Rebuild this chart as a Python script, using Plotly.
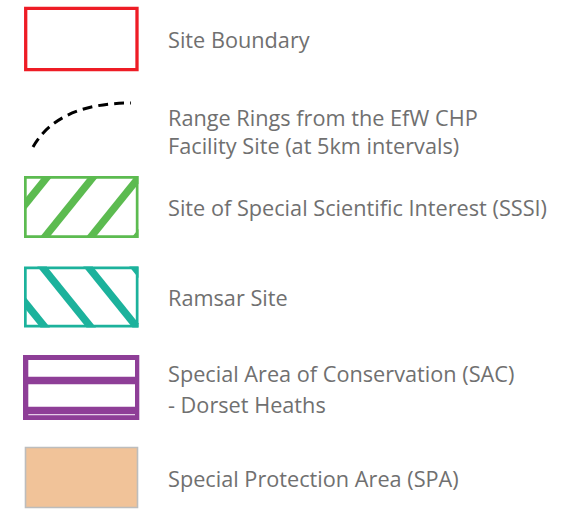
import plotly.graph_objects as go

W, H = 588, 513

# ---- legend content ----
label_lines = [
    ["Site Boundary"],
    ["Range Rings from the EfW CHP", "Facility Site (at 5km intervals)"],
    ["Site of Special Scientific Interest (SSSI)"],
    ["Ramsar Site"],
    ["Special Area of Conservation (SAC)", "- Dorset Heaths"],
    ["Special Protection Area (SPA)"],
]
symbol_kinds = ["outline", "dashed_arc", "hatch_up", "hatch_down", "double_bar", "fill"]
symbol_colors = ["#EE1C25", "#000000", "#5CBB50", "#1CB29C", "#8E3E97", "#F1C399"]

# ---- layout (pixel geometry) ----
text_y = [[39], [117, 145.5], [207.5], [297], [373.5, 404.5], [478.5]]
text_x = 165.5
TEXT_COLOR = "#707070"
FONT = "Open Sans"
FONT_SIZE = 21.7


def clip_poly(poly, x0, y0, x1, y1):
    def clip(points, inside, inter):
        out = []
        n = len(points)
        for i in range(n):
            cur, prev = points[i], points[i - 1]
            if inside(cur):
                if not inside(prev):
                    out.append(inter(prev, cur))
                out.append(cur)
            elif inside(prev):
                out.append(inter(prev, cur))
        return out

    def ix(xc):
        def f(p, q):
            t = (xc - p[0]) / (q[0] - p[0])
            return (xc, p[1] + t * (q[1] - p[1]))
        return f

    def iy(yc):
        def f(p, q):
            t = (yc - p[1]) / (q[1] - p[1])
            return (p[0] + t * (q[0] - p[0]), yc)
        return f

    pts = poly
    for inside, inter in [
        (lambda p: p[0] >= x0, ix(x0)),
        (lambda p: p[0] <= x1, ix(x1)),
        (lambda p: p[1] >= y0, iy(y0)),
        (lambda p: p[1] <= y1, iy(y1)),
    ]:
        if not pts:
            break
        pts = clip(pts, inside, inter)
    return pts


def path_of(pts):
    return "M " + " L ".join(f"{x:.2f},{y:.2f}" for x, y in pts) + " Z"


shapes = []


def rect(x0, y0, x1, y1, fill=None, line=None, lw=0):
    shapes.append(dict(type="rect", xref="x", yref="y", x0=x0, y0=y0, x1=x1, y1=y1,
                       fillcolor=fill if fill else "rgba(0,0,0,0)",
                       line=dict(color=line if line else "rgba(0,0,0,0)", width=lw),
                       layer="above"))


def hatched(x0, y0, x1, y1, color, direction, starts):
    h = y1 - y0
    dx = 50.0 * h / 62.0
    hw = 4.8
    for xt in starts:
        if direction == "up":   # "/" : lower end is to the left
            poly = [(xt - hw, y0), (xt + hw, y0), (xt + hw - dx, y1), (xt - hw - dx, y1)]
        else:                   # "\" : lower end is to the right
            poly = [(xt - hw, y0), (xt + hw, y0), (xt + hw + dx, y1), (xt - hw + dx, y1)]
        c = clip_poly(poly, x0, y0, x1, y1)
        if len(c) >= 3:
            shapes.append(dict(type="path", xref="x", yref="y", path=path_of(c),
                               fillcolor=color, line=dict(width=0), layer="above"))
    bw = 2.7
    rect(x0 + bw / 2, y0 + bw / 2, x1 - bw / 2, y1 - bw / 2, line=color, lw=bw)


for kind, col in zip(symbol_kinds, symbol_colors):
    if kind == "outline":
        rect(25.7, 8.4, 137.0, 69.7, line=col, lw=3.3)
    elif kind == "dashed_arc":
        shapes.append(dict(type="path", xref="x", yref="y",
                           path="M 33,147 Q 58,103 131,103",
                           line=dict(color=col, width=3, dash="10px,6px"),
                           layer="above"))
    elif kind == "hatch_up":
        hatched(24, 176, 138.5, 238, col, "up", [48, 94, 140, 186])
    elif kind == "hatch_down":
        hatched(24, 266.5, 138.5, 327.5, col, "down", [-4, 42, 88, 134])
    elif kind == "double_bar":
        rect(23, 355, 139.3, 420, fill=col)
        rect(28.3, 360, 135, 376.7, fill="#FFFFFF")
        rect(28.3, 384.3, 135, 406.7, fill="#FFFFFF")
        rect(28.3, 414.0, 135, 415.3, fill="#E4CBE6")
    elif kind == "fill":
        rect(25.5, 447.5, 137.5, 507.5, fill=col, line="#BDBDBD", lw=1.6)

annotations = []
for lines, ys in zip(label_lines, text_y):
    for line, y in zip(lines, ys):
        annotations.append(dict(x=text_x, y=y, xref="x", yref="y", text=line,
                                showarrow=False, xanchor="left", yanchor="middle",
                                font=dict(family=FONT, size=FONT_SIZE, color=TEXT_COLOR)))

fig = go.Figure()
fig.add_trace(go.Scatter(x=[0, W], y=[0, H], mode="markers",
                         marker=dict(opacity=0), hoverinfo="skip", showlegend=False))
fig.update_layout(
    width=W, height=H,
    margin=dict(l=0, r=0, t=0, b=0),
    paper_bgcolor="white", plot_bgcolor="white",
    xaxis=dict(range=[0, W], visible=False, fixedrange=True),
    yaxis=dict(range=[H, 0], visible=False, fixedrange=True),
    shapes=shapes, annotations=annotations, showlegend=False,
)
fig.write_html("out.html", config={"displayModeBar": False},
               post_script="document.body.style.margin='0';document.body.style.overflow='hidden';")
